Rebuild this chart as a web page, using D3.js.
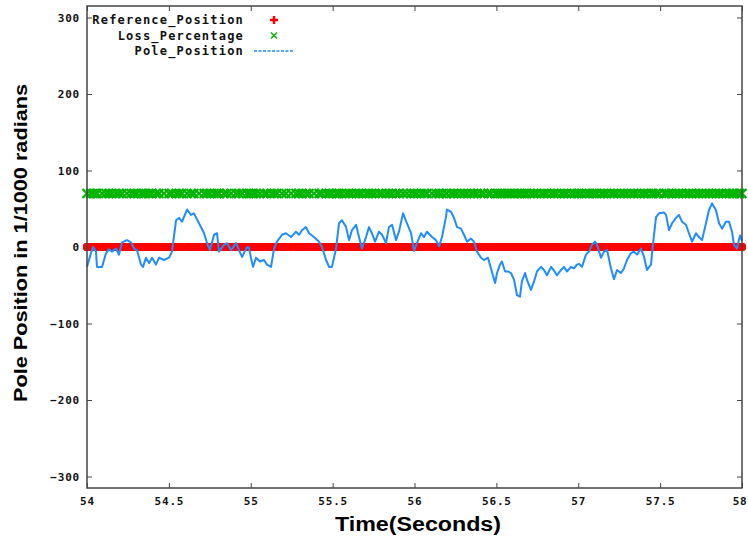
<!DOCTYPE html>
<html>
<head>
<meta charset="utf-8">
<script src="https://cdn.jsdelivr.net/npm/d3@7"></script>
<style>
  html, body { margin: 0; padding: 0; background: #fff; }
  svg { display: block; }
  .tick text { font-family: "DejaVu Sans Mono", monospace; font-weight: bold; font-size: 11px; fill: #111; letter-spacing: 0.8px; }
  .tick line { stroke: #444; }
</style>
</head>
<body>
<svg id="chart" width="748" height="539"></svg>
<script>
// Sample times (s) and pole angle (1/1000 rad)
const time = [
  54.000, 54.024, 54.037, 54.055, 54.061, 54.092, 54.116, 54.134, 54.153, 54.177,
  54.195, 54.214, 54.244, 54.269, 54.287, 54.305, 54.330, 54.342, 54.360, 54.379,
  54.397, 54.421, 54.440, 54.470, 54.501, 54.519, 54.544, 54.562, 54.580, 54.611,
  54.635, 54.653, 54.684, 54.715, 54.733, 54.751, 54.776, 54.794, 54.806, 54.837,
  54.855, 54.879, 54.910, 54.928, 54.947, 54.977, 54.989, 55.002, 55.014, 55.032,
  55.056, 55.081, 55.099, 55.124, 55.142, 55.160, 55.191, 55.215, 55.246, 55.276,
  55.295, 55.313, 55.337, 55.356, 55.386, 55.417, 55.435, 55.460, 55.478, 55.496,
  55.521, 55.527, 55.539, 55.557, 55.582, 55.600, 55.618, 55.643, 55.661, 55.679,
  55.704, 55.722, 55.740, 55.759, 55.783, 55.802, 55.826, 55.844, 55.863, 55.887,
  55.905, 55.930, 55.954, 55.979, 55.997, 56.015, 56.040, 56.058, 56.076, 56.107,
  56.131, 56.150, 56.168, 56.192, 56.198, 56.223, 56.241, 56.260, 56.284, 56.302,
  56.321, 56.345, 56.363, 56.382, 56.406, 56.424, 56.449, 56.467, 56.492, 56.504,
  56.522, 56.534, 56.553, 56.571, 56.589, 56.608, 56.626, 56.644, 56.656, 56.675,
  56.687, 56.711, 56.730, 56.748, 56.773, 56.791, 56.809, 56.834, 56.852, 56.870,
  56.895, 56.913, 56.931, 56.956, 56.974, 56.992, 57.005, 57.023, 57.047, 57.066,
  57.084, 57.102, 57.115, 57.139, 57.157, 57.176, 57.200, 57.218, 57.237, 57.261,
  57.279, 57.298, 57.322, 57.340, 57.359, 57.383, 57.402, 57.420, 57.444, 57.456,
  57.475, 57.493, 57.524, 57.536, 57.554, 57.573, 57.597, 57.615, 57.634, 57.658,
  57.676, 57.695, 57.719, 57.737, 57.756, 57.780, 57.798, 57.817, 57.841, 57.860,
  57.878, 57.902, 57.921, 57.939, 57.951, 57.969, 57.988, 58.000
];
const polePosition = [
  -26, -8, 0, -6, -26, -26, -8, -3, -6, -2,
  -10, 6, 9, 6, -2, -4, -23, -26, -14, -21,
  -14, -23, -14, -17, -14, -6, 35, 38, 33, 49,
  42, 44, 31, 18, 5, -4, 16, 18, -6, 3,
  5, -4, 5, -4, -13, 0, -1, -15, -26, -14,
  -19, -17, -23, -26, -2, 7, 16, 18, 13, 20,
  16, 22, 26, 18, 13, 7, 0, -17, -26, -26,
  -2, 9, 31, 35, 26, 9, 22, 29, 13, -2,
  13, 26, 18, 7, 20, 16, 5, 26, 29, 9,
  20, 44, 31, 18, -5, 5, 18, 13, 20, 13,
  9, 1, 13, 39, 49, 46, 38, 26, 24, 16,
  7, 11, 7, -6, -14, -17, -14, -28, -47, -34,
  -23, -19, -32, -32, -34, -43, -63, -65, -45, -34,
  -43, -56, -45, -32, -26, -30, -37, -26, -31, -37,
  -30, -26, -32, -26, -28, -23, -22, -26, -10, -6,
  3, 7, 3, -14, -6, -4, -28, -42, -30, -34,
  -28, -17, -8, -6, -10, -2, -13, -30, -23, 3,
  39, 44, 45, 42, 22, 31, 38, 42, 33, 29,
  18, 7, 18, 13, 9, 31, 48, 57, 48, 31,
  24, 33, 33, 20, 3, -2, 15, 8
];
// Constant levels recorded at every sample
const referencePosition = 0;
const lossPercentage = 70;

const xTicks = [54, 54.5, 55, 55.5, 56, 56.5, 57, 57.5, 58];
const yTicks = [-300, -200, -100, 0, 100, 200, 300];
const legendLabels = ["Reference_Position", "Loss_Percentage", "Pole_Position"];

const colors = { reference: "#ff0000", loss: "#00b400", pole: "#1f8cff" };

const svg = d3.select("#chart");
const frame = { left: 87, right: 742, top: 6, bottom: 488 };

const x = d3.scaleLinear().domain([54, 58]).range([frame.left, frame.right]);
const y = d3.scaleLinear().domain([-315, 315]).range([frame.bottom, frame.top]);

// Axes with inward ticks, mirrored on top and right
svg.append("g").attr("transform", `translate(${frame.left},0)`)
  .call(d3.axisLeft(y).tickValues(yTicks).tickSize(-5).tickPadding(7).tickFormat(d3.format("d")))
  .call(g => g.select(".domain").remove());
svg.append("g").attr("transform", `translate(${frame.right},0)`)
  .call(d3.axisRight(y).tickValues(yTicks).tickSize(-5).tickFormat(""))
  .call(g => g.select(".domain").remove());
svg.append("g").attr("transform", `translate(0,${frame.bottom})`)
  .call(d3.axisBottom(x).tickValues(xTicks).tickSize(-5).tickPadding(9).tickFormat(d => String(d)))
  .call(g => g.select(".domain").remove())
  .call(g => g.selectAll(".tick text").filter(d => d === 58).attr("text-anchor", "end").attr("dx", 5));
svg.append("g").attr("transform", `translate(0,${frame.top})`)
  .call(d3.axisTop(x).tickValues(xTicks).tickSize(-5).tickFormat(""))
  .call(g => g.select(".domain").remove());

// Data layers
const plot = svg.append("g");

// Loss_Percentage: green x marks
plot.append("g").selectAll("path").data(time).join("path")
  .attr("d", t => {
    const cx = x(t), cy = y(lossPercentage), r = 4.5;
    return `M${cx - r},${cy - r}L${cx + r},${cy + r}M${cx - r},${cy + r}L${cx + r},${cy - r}`;
  })
  .attr("stroke", colors.loss).attr("stroke-width", 2.2).attr("fill", "none");

// Reference_Position: red + marks
plot.append("g").selectAll("path").data(time).join("path")
  .attr("d", t => {
    const cx = x(t), cy = y(referencePosition), r = 4;
    return `M${cx - r},${cy}L${cx + r},${cy}M${cx},${cy - r}L${cx},${cy + r}`;
  })
  .attr("stroke", colors.reference).attr("stroke-width", 5.5).attr("fill", "none");

// Pole_Position: blue line
const line = d3.line().x((d, i) => x(time[i])).y(d => y(d));
plot.append("path").datum(polePosition)
  .attr("d", line)
  .attr("fill", "none").attr("stroke", colors.pole).attr("stroke-width", 2)
  .attr("stroke-linejoin", "round");

// Frame
svg.append("rect").attr("x", frame.left).attr("y", frame.top)
  .attr("width", frame.right - frame.left).attr("height", frame.bottom - frame.top)
  .attr("fill", "none").attr("stroke", "#444").attr("stroke-width", 1.5);

// Legend
const legend = svg.append("g")
  .attr("font-family", "'DejaVu Sans Mono', monospace")
  .attr("font-weight", "bold").attr("font-size", 12).attr("fill", "#111");
const rowY = [20, 35.5, 51];
legendLabels.forEach((label, i) => {
  legend.append("text").attr("x", 244).attr("y", rowY[i] + 4)
    .attr("text-anchor", "end").attr("letter-spacing", 1.2).text(label);
});
legend.append("path")
  .attr("d", `M${270},${rowY[0]}L${278},${rowY[0]}M${274},${rowY[0] - 4}L${274},${rowY[0] + 4}`)
  .attr("stroke", colors.reference).attr("stroke-width", 2.5);
legend.append("path")
  .attr("d", `M${271},${rowY[1] - 3}L${277},${rowY[1] + 3}M${271},${rowY[1] + 3}L${277},${rowY[1] - 3}`)
  .attr("stroke", colors.loss).attr("stroke-width", 1.5);
legend.append("line").attr("x1", 254).attr("x2", 293).attr("y1", rowY[2]).attr("y2", rowY[2])
  .attr("stroke", colors.pole).attr("stroke-width", 1.5).attr("stroke-dasharray", "3,1.5");

// Axis titles
svg.append("text").attr("x", 418).attr("y", 531).attr("text-anchor", "middle")
  .attr("font-family", "'Liberation Sans', Arial, sans-serif").attr("font-weight", "bold")
  .attr("font-size", 20).attr("textLength", 166).attr("lengthAdjust", "spacingAndGlyphs")
  .attr("fill", "#000").text("Time(Seconds)");
svg.append("text").attr("transform", "translate(27,243) rotate(-90)").attr("text-anchor", "middle")
  .attr("font-family", "'Liberation Sans', Arial, sans-serif").attr("font-weight", "bold")
  .attr("font-size", 19).attr("textLength", 318).attr("lengthAdjust", "spacingAndGlyphs")
  .attr("fill", "#000").text("Pole Position in 1/1000 radians");
</script>
</body>
</html>
